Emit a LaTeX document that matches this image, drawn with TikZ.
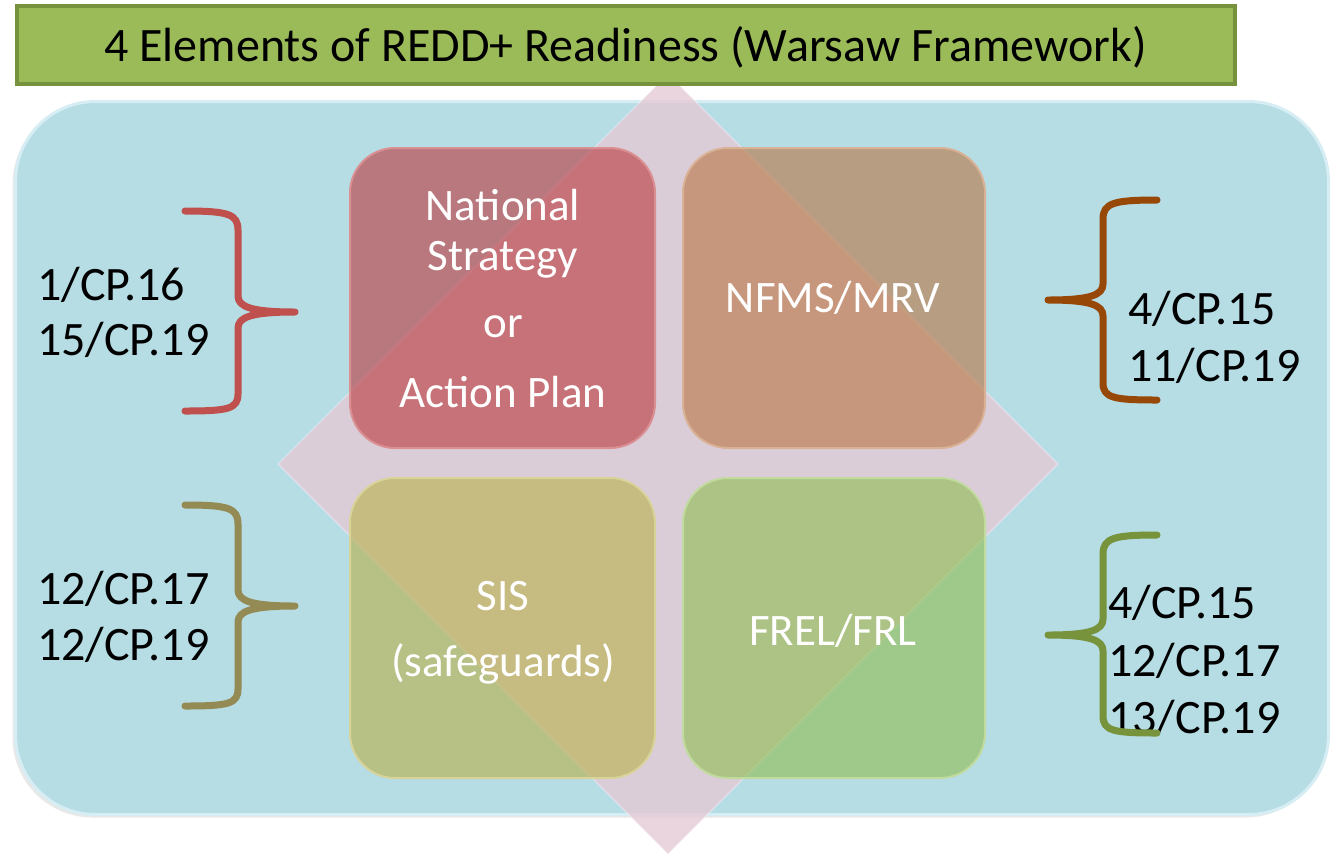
\documentclass[tikz,border=0pt]{standalone}
\usepackage{fontspec}
\setmainfont{Carlito}
\usetikzlibrary{shadows}

\definecolor{panelblue}{RGB}{182,220,228}
\definecolor{paneledge}{RGB}{214,238,243}
\definecolor{diamondpink}{RGB}{229,202,214}
\definecolor{titlegreen}{RGB}{155,187,89}
\definecolor{titleedge}{RGB}{118,146,60}
\definecolor{boxred}{RGB}{187,54,57}
\definecolor{boxorange}{RGB}{185,115,63}
\definecolor{boxolive}{RGB}{184,175,70}
\definecolor{boxgreen}{RGB}{142,189,78}
\definecolor{bracered}{RGB}{192,80,77}
\definecolor{bracebrown}{RGB}{152,72,6}
\definecolor{braceolive}{RGB}{148,138,84}
\definecolor{bracegreen}{RGB}{119,147,60}

\tikzset{
  panel/.style={rectangle, rounded corners=80pt, fill=panelblue, draw=paneledge,
    line width=3pt, inner sep=0pt,
    drop shadow={shadow xshift=-3pt, shadow yshift=-3pt, opacity=0.18}},
  titlebox/.style={rectangle, fill=titlegreen, draw=titleedge, line width=4pt,
    inner sep=0pt, minimum width=1218pt, minimum height=78pt,
    drop shadow={shadow xshift=2pt, shadow yshift=-2pt, opacity=0.3}},
  elembox/.style={rectangle, rounded corners=45pt, fill opacity=0.6,
    line width=2pt, inner sep=0pt, minimum height=300pt},
  boxtext/.style={text=white, inner sep=0pt, anchor=base,
    font=\fontsize{45}{54}\selectfont},
  reftext/.style={text=black, inner sep=0pt, anchor=base west,
    font=\fontsize{48}{56}\selectfont},
  brace/.style={line width=7pt, line cap=round, line join=round},
}

\begin{document}
\begin{tikzpicture}[x=1pt,y=-1pt]
\useasboundingbox (0,0) rectangle (1332,855);
\fill[white] (0,0) rectangle (1332,855);

% background panel
\node[panel, minimum width=1313pt, minimum height=713pt] (panel) at (672,458) {};

% translucent diamond behind the four elements
\fill[diamondpink, opacity=0.8] (668,74) -- (1058,464) -- (668,854) -- (278,464) -- cycle;
\draw[white, opacity=0.45, line width=1pt] (668,74) -- (1058,464) -- (668,854) -- (278,464) -- cycle;

% the four readiness elements
\node[elembox, fill=boxred, draw=boxred!55!white, minimum width=305pt] (nat) at (502.5,298) {};
\node[elembox, fill=boxorange, draw=boxorange!55!white, minimum width=302pt] (nfms) at (834,298) {};
\node[elembox, fill=boxolive, draw=boxolive!55!white, minimum width=305pt] (sis) at (502.5,628) {};
\node[elembox, fill=boxgreen, draw=boxgreen!55!white, minimum width=302pt] (frel) at (834,628) {};

\node[boxtext] (nat1) at (503,220) {National};
\node[boxtext] (nat2) at (503,270) {Strategy};
\node[boxtext] (nat3) at (503,337) {or};
\node[boxtext] (nat4) at (503,407) {Action Plan};
\node[boxtext] (nfmst) at (833,312) {NFMS/MRV};
\node[boxtext] (sis1) at (503,610) {SIS};
\node[boxtext] (sis2) at (503,676) {(safeguards)};
\node[boxtext] (frelt) at (833,645) {FREL/FRL};

% title bar
\node[titlebox] (title) at (625.5,45) {};
\node[text=black, inner sep=0pt, anchor=base, font=\fontsize{48}{56}\selectfont] (titletext) at (625.5,61)
  {4 Elements of REDD+ Readiness (Warsaw Framework)};

% decision references, left side
\node[reftext] (l1) at (37,300) {1/CP.16};
\node[reftext] (l2) at (37,355) {15/CP.19};
\node[reftext] (l3) at (37,604) {12/CP.17};
\node[reftext] (l4) at (37,660) {12/CP.19};

% decision references, right side
\node[reftext] (r1) at (1128,324) {4/CP.15};
\node[reftext] (r2) at (1128,381) {11/CP.19};
\node[reftext] (r3) at (1108,618) {4/CP.15};
\node[reftext] (r4) at (1108,676) {12/CP.17};
\node[reftext] (r5) at (1108,733) {13/CP.19};

% braces grouping the references
\draw[brace, bracered]
  (185,211) .. controls (228,211) and (238,214) .. (238,230) -- (238,296)
  .. controls (238,307) and (252,312) .. (295,312)
  .. controls (252,312) and (238,317) .. (238,328) -- (238,394)
  .. controls (238,409) and (228,411) .. (185,411);
\draw[brace, braceolive]
  (185,505) .. controls (228,505) and (238,508) .. (238,524) -- (238,590)
  .. controls (238,601) and (252,606) .. (295,606)
  .. controls (252,606) and (238,611) .. (238,622) -- (238,689)
  .. controls (238,704) and (228,706) .. (185,706);
\draw[brace, bracebrown]
  (1157,200) .. controls (1114,200) and (1103,203) .. (1103,219) -- (1103,284)
  .. controls (1103,295) and (1090,300) .. (1048,300)
  .. controls (1090,300) and (1103,305) .. (1103,316) -- (1103,383)
  .. controls (1103,398) and (1114,400) .. (1157,400);
\draw[brace, bracegreen]
  (1157,535) .. controls (1114,535) and (1103,538) .. (1103,554) -- (1103,619)
  .. controls (1103,630) and (1090,635) .. (1048,635)
  .. controls (1090,635) and (1103,640) .. (1103,651) -- (1103,716)
  .. controls (1103,731) and (1114,733) .. (1157,733);
\end{tikzpicture}
\end{document}
